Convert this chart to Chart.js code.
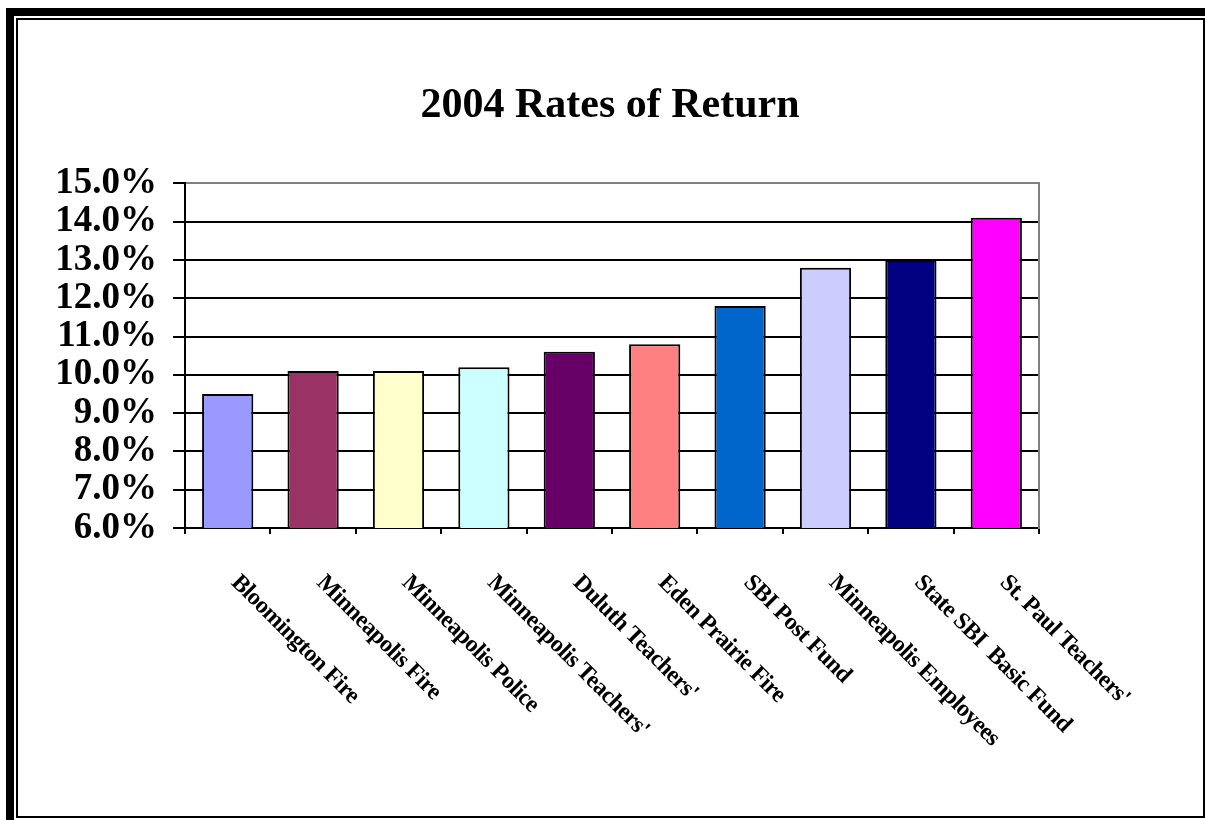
<!DOCTYPE html>
<html>
<head>
<meta charset="utf-8">
<title>2004 Rates of Return</title>
<script src="https://cdn.jsdelivr.net/npm/chart.js@4.4.1/dist/chart.umd.min.js"></script>
<style>
  html, body { margin: 0; padding: 0; background: #fff; }
  #wrap { position: relative; width: 1205px; height: 820px; overflow: hidden; }
  #outer { position: absolute; left: 6px; top: 8px; right: 0; bottom: 0; border-left: 8px solid #000; border-top: 8px solid #000; }
  #inner { position: absolute; left: 16px; top: 18px; width: 1189px; height: 800px; box-sizing: border-box; border: 2px solid #000; }
  #chart { position: absolute; left: 0; top: 0; }
</style>
</head>
<body>
<div id="wrap">
  <div id="outer"></div>
  <div id="inner"></div>
  <canvas id="chart" width="1205" height="820"></canvas>
</div>
<script>
const categories = ['Bloomington Fire', 'Minneapolis Fire', 'Minneapolis Police', "Minneapolis Teachers'",
    "Duluth Teachers'", 'Eden Prairie Fire', 'SBI Post Fund', 'Minneapolis Employees',
    'State SBI  Basic Fund', "St. Paul Teachers'"];
const returns = [9.5, 10.1, 10.1, 10.2, 10.6, 10.8, 11.8, 12.8, 13.0, 14.1];
const barColors = ['#9999FF', '#993366', '#FFFFCC', '#CCFFFF', '#660066',
    '#FF8080', '#0066CC', '#CCCCFF', '#000080', '#FF00FF'];
const yMin = 6;
const yMax = 15;

const serif = '"Liberation Serif", "Times New Roman", serif';

// etiquetas inclinadas hacia abajo, como en Excel
const slantLabels = {
    id: 'slantLabels',
    afterDraw(chart) {
        const ctx = chart.ctx;
        const xs = chart.scales.x;
        ctx.save();
        ctx.font = 'bold 24px ' + serif;
        ctx.letterSpacing = '-0.6px';
        ctx.fillStyle = '#000';
        ctx.textAlign = 'left';
        ctx.textBaseline = 'middle';
        categories.forEach((c, i) => {
            const px = xs.getPixelForValue(i);
            ctx.save();
            ctx.translate(px + 7, chart.chartArea.bottom + 51);
            ctx.rotate(Math.PI / 4);
            ctx.fillText(c, 0, 0);
            ctx.restore();
        });
        ctx.restore();
    }
};

new Chart(document.getElementById('chart').getContext('2d'), {
    type: 'bar',
    data: {
        labels: categories,
        datasets: [{
            label: '2004 Rates of Return',
            data: returns,
            backgroundColor: barColors,
            borderColor: '#000',
            borderWidth: 2,
            categoryPercentage: 0.6,
            barPercentage: 1
        }]
    },
    options: {
        responsive: false,
        animation: false,
        layout: { padding: { left: 15, right: 0, bottom: 286, top: 0 } },
        plugins: {
            legend: { display: false },
            tooltip: { enabled: false },
            title: {
                display: true,
                text: '2004 Rates of Return',
                color: '#000',
                font: { family: serif, size: 42, weight: 'bold' },
                padding: { top: 81, bottom: 52 }
            }
        },
        scales: {
            x: {
                ticks: { display: false },
                grid: { offset: true, drawOnChartArea: false, color: '#000', lineWidth: 2, tickLength: 6 },
                border: { color: '#000', width: 2 }
            },
            y: {
                min: yMin,
                max: yMax,
                ticks: {
                    stepSize: 1,
                    autoSkip: false,
                    color: '#000',
                    padding: 16,
                    font: { family: serif, size: 37, weight: 'bold' },
                    callback: v => v.toFixed(1) + '%'
                },
                grid: {
                    color: c => (c.tick && c.tick.value === yMax) ? '#808080' : '#000',
                    lineWidth: 2,
                    tickLength: 12,
                    tickColor: '#000'
                },
                border: { color: '#000', width: 2 },
                afterFit: s => { s.width = 170; }
            },
            y2: {
                position: 'right',
                min: yMin,
                max: yMax,
                ticks: { display: false },
                grid: { drawOnChartArea: false, drawTicks: false },
                border: { color: '#808080', width: 2 },
                afterFit: s => { s.width = 166; }
            }
        }
    },
    plugins: [slantLabels]
});
</script>
</body>
</html>
